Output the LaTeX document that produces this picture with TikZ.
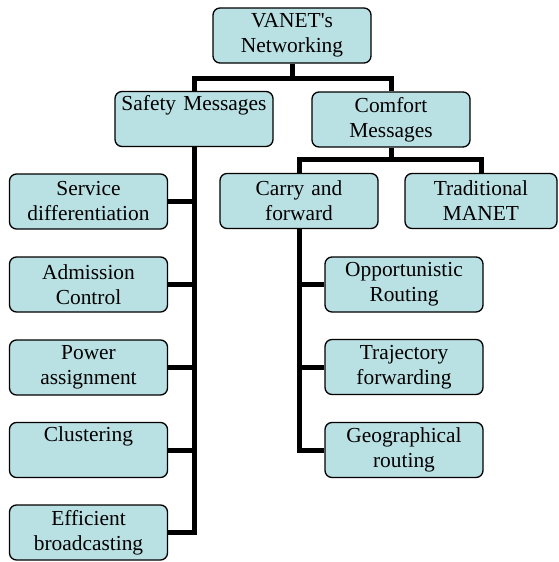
\documentclass[tikz,border=0pt]{standalone}
\usepackage{fontspec}
\setmainfont{Liberation Serif}
\usepackage{tikz}
\definecolor{boxfill}{RGB}{185,224,227}

\begin{document}
\begin{tikzpicture}[x=1pt, y=-1pt,
  box/.style={draw, fill=boxfill, line width=1.3pt, rounded corners=7pt,
    text width=154pt, inner sep=2pt, minimum height=55pt, align=center,
    font=\fontsize{21.4}{25}\selectfont},
  conn/.style={line width=5pt}]
  \useasboundingbox (0,0) rectangle (558,562);

  % Top levels
  \node[box] (root) at (292,35.5) {VANET\textquotesingle s\\Networking};
  \node[box] (safety) at (194,119) {Safety Messages\\\strut};
  \node[box] (comfort) at (391,119.5) {Comfort\\Messages};

  % Comfort branch
  \node[box] (carry) at (299,201) {Carry and\\forward};
  \node[box, text width=148pt] (trad) at (481,201) {Traditional\\MANET};

  % Safety leaves
  \node[box] (serv) at (88.5,201.5) {Service\\differentiation};
  \node[box] (adm) at (88.5,284.5) {Admission\\Control};
  \node[box] (pow) at (88.5,367.5) {Power\\assignment};
  \node[box] (clu) at (88.5,450) {Clustering\\\strut};
  \node[box] (eff) at (88.5,532.5) {Efficient\\broadcasting};

  % Carry leaves
  \node[box] (opp) at (404,284.5) {Opportunistic\\Routing};
  \node[box] (traj) at (404,367) {Trajectory\\forwarding};
  \node[box] (geo) at (404,450) {Geographical\\routing};

  % Connectors
  \begin{scope}[on background layer/.try]
  \draw[conn] (root.south) -- ++(0,15) coordinate (rj);
  \draw[conn] (rj) -| (safety.north);
  \draw[conn] (rj) -| (comfort.north);
  \draw[conn] (comfort.south) -- ++(0,12) coordinate (cj);
  \draw[conn] (cj) -| (carry.north);
  \draw[conn] (cj) -| (trad.north);

  \draw[conn] (safety.south) |- (eff.east);
  \foreach \n in {serv,adm,pow,clu}
    \draw[conn] (\n.east) -- (\n.east -| safety.south);

  \draw[conn] (carry.south) |- (geo.west);
  \foreach \n in {opp,traj}
    \draw[conn] (\n.west) -- (\n.west -| carry.south);
  \end{scope}

\end{tikzpicture}
\end{document}
